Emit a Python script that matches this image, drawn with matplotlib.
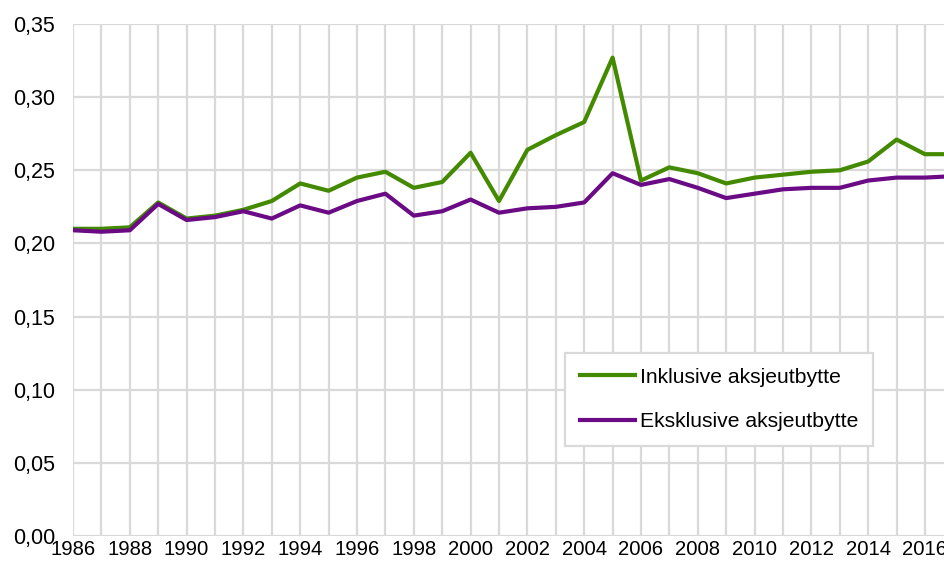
import matplotlib.pyplot as plt
from matplotlib.ticker import MultipleLocator, FuncFormatter

plt.rcParams['font.family'] = ['Liberation Sans', 'DejaVu Sans']

# Data
years = list(range(1986, 2018))
inklusive = [0.210, 0.210, 0.211, 0.228, 0.217, 0.219, 0.223, 0.229, 0.241, 0.236,
             0.245, 0.249, 0.238, 0.242, 0.262, 0.229, 0.264, 0.274, 0.283, 0.327,
             0.243, 0.252, 0.248, 0.241, 0.245, 0.247, 0.249, 0.250, 0.256, 0.271,
             0.261, 0.261]
eksklusive = [0.209, 0.208, 0.209, 0.227, 0.216, 0.218, 0.222, 0.217, 0.226, 0.221,
              0.229, 0.234, 0.219, 0.222, 0.230, 0.221, 0.224, 0.225, 0.228, 0.248,
              0.240, 0.244, 0.238, 0.231, 0.234, 0.237, 0.238, 0.238, 0.243, 0.245,
              0.245, 0.246]
labels = ["Inklusive aksjeutbytte", "Eksklusive aksjeutbytte"]

green = "#438A00"
purple = "#6B0A85"
grid_col = "#D9D9D9"

fig = plt.figure(figsize=(9.44, 5.62), dpi=100)
ax = fig.add_axes([73 / 944, 1 - 536 / 562, 1 - 73 / 944, (536 - 24) / 562])

ax.plot(years, inklusive, color=green, lw=3, label=labels[0], zorder=3)
ax.plot(years, eksklusive, color=purple, lw=3, label=labels[1], zorder=3)

ax.set_xlim(1986, 2016.67)
ax.set_ylim(0, 0.35)
ax.xaxis.set_major_locator(MultipleLocator(2))
ax.xaxis.set_minor_locator(MultipleLocator(1))
ax.yaxis.set_major_locator(MultipleLocator(0.05))
ax.yaxis.set_major_formatter(FuncFormatter(lambda v, p: f"{v:.2f}".replace(".", ",")))

ax.grid(True, which='both', axis='x', color=grid_col, lw=1.6)
ax.grid(True, which='major', axis='y', color=grid_col, lw=1.6)
ax.set_axisbelow(True)
for s in ax.spines.values():
    s.set_visible(False)
ax.tick_params(which='both', length=0)
ax.tick_params(axis='y', labelsize=15.5, pad=13)
ax.tick_params(axis='x', labelsize=14.6, pad=3)

leg = ax.legend(loc='lower left', bbox_to_anchor=(0.565, 0.176), borderaxespad=0,
                fontsize=15.2, handlelength=2.6, handletextpad=0.25, labelspacing=1.2,
                borderpad=0.7, fancybox=False, framealpha=1, edgecolor=grid_col)
leg.get_frame().set_linewidth(1.6)

fig.savefig("out.png", dpi=100)
